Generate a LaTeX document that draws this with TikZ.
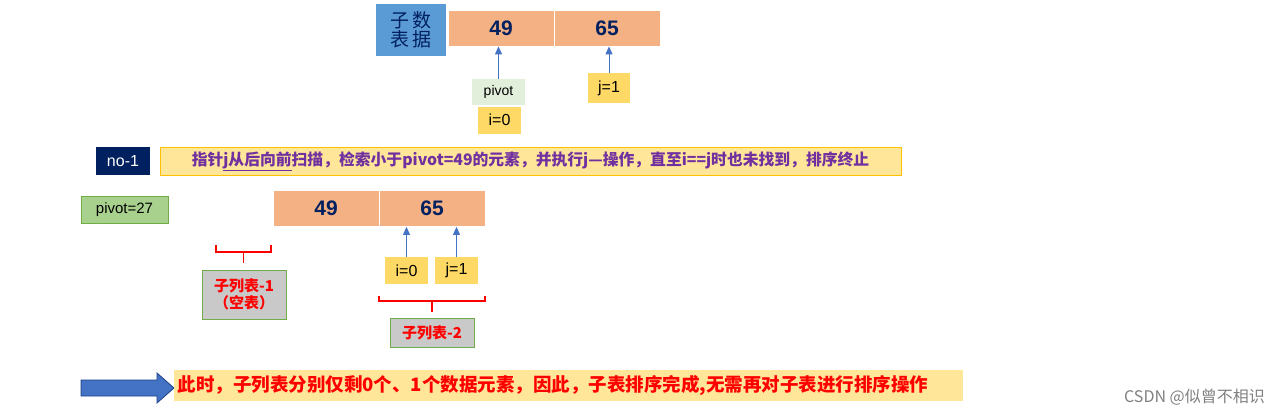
\documentclass[tikz,border=0pt]{standalone}
\usepackage{fontspec}
\setmainfont{Liberation Sans}
\newfontfamily\cjk{Noto Sans CJK SC}
\usetikzlibrary{arrows.meta}
\definecolor{cell}{RGB}{244,177,131}
\definecolor{ylw}{RGB}{255,217,102}
\definecolor{lgrn}{RGB}{226,239,218}
\definecolor{navy}{RGB}{0,32,96}
\definecolor{bannerf}{RGB}{255,230,153}
\definecolor{bannerd}{RGB}{255,192,0}
\definecolor{purp}{RGB}{112,48,160}
\definecolor{blu}{RGB}{91,155,213}
\definecolor{arr}{RGB}{68,114,196}
\definecolor{grn}{RGB}{169,209,142}
\definecolor{grnd}{RGB}{112,173,71}
\tikzset{
 cellbox/.style={fill=cell,draw=white,line width=0.8pt,minimum width=106pt,minimum height=36pt,inner sep=0pt,font=\fontsize{21}{21}\selectfont\bfseries,text=navy},
 ybox/.style={fill=ylw,minimum height=27pt,inner sep=0pt,font=\fontsize{16}{16}\selectfont},
 gbox/.style={fill=black!21,draw=grnd,line width=0.8pt,inner sep=0pt,text=red,font=\cjk\fontsize{15}{17}\selectfont\bfseries,align=center},
 upar/.style={draw=arr,line width=1pt,-{Triangle[length=8pt,width=7pt]}},
 brk/.style={draw=red,line width=1.6pt},
}
\begin{document}
\begin{tikzpicture}[x=1pt,y=-1pt]
\useasboundingbox (0,0) rectangle (1280,415);
% top
\node[fill=blu,minimum width=70pt,minimum height=52pt,inner sep=0pt,align=center,font=\cjk\fontsize{19}{19}\selectfont,text=navy] (sub) at (411,30) {子\,数\\表\,据};
\node[cellbox] (a49) at (501,28) {49};
\node[cellbox] (a65) at (607,28) {65};
\node[fill=lgrn,minimum width=53pt,minimum height=26pt,inner sep=0pt,font=\fontsize{14}{14}\selectfont] (piv) at (498.5,92) {pivot};
\node[ybox,minimum width=43pt] (i0) at (499.5,120) {i=0};
\node[ybox,minimum width=42pt,minimum height=30pt] (j1) at (609,88) {j=1};
\draw[upar] (piv.north) -- (piv.north |- a49.south);
\draw[upar] (j1.north) -- (j1.north |- a65.south);
% no-1 banner
\node[fill=navy,text=white,minimum width=54pt,minimum height=28pt,inner sep=0pt,font=\fontsize{16}{16}\selectfont] (no1) at (123,161) {no-1};
\node[fill=bannerf,draw=bannerd,line width=0.8pt,minimum width=741pt,minimum height=28pt,inner sep=0pt,text=purp,font=\cjk\fontsize{15.8}{15.8}\selectfont\bfseries] (ban1) at (530.5,161) {指针\underline{j从后向前}扫描，检索小于pivot=49的元素，并执行j—操作，直至i==j时也未找到，排序终止};
% second row
\node[fill=grn,draw=grnd,line width=0.6pt,minimum width=87pt,minimum height=27pt,inner sep=0pt,font=\fontsize{15}{15}\selectfont] (p27) at (124.5,209.5) {pivot=27};
\node[cellbox] (b49) at (326,208.5) {49};
\node[cellbox] (b65) at (432,208.5) {65};
\node[ybox,minimum width=43pt] (bi0) at (406.5,270.5) {i=0};
\node[ybox,minimum width=43pt] (bj1) at (456.5,270.5) {j=1};
\draw[upar] (bi0.north) -- (bi0.north |- b49.south);
\draw[upar] (bj1.north) -- (bj1.north |- b65.south);
% brackets
\coordinate (l1) at (216,245); \coordinate (lm) at (243.5,252); \coordinate (ls) at (243.5,263);
\draw[brk] (l1) -- ++(0,7) -- ++(55,0) -- ++(0,-7);
\draw[brk] (lm) -- (ls);
\node[gbox,minimum width=84pt,minimum height=49pt] (s1) at (244,294.5) {子列表-1\\（空表）};
\coordinate (r1) at (379,296); \coordinate (rm) at (432,301); \coordinate (rs) at (432,312);
\draw[brk] (r1) -- ++(0,5) -- ++(106,0) -- ++(0,-5);
\draw[brk] (rm) -- (rs);
\node[gbox,minimum width=84pt,minimum height=29pt] (s2) at (432,332.5) {子列表-2};
% bottom
\draw[fill=arr,draw=navy!60!arr,line width=0.8pt] (81,380) -- (157,380) -- (157,373) -- (174,388) -- (157,403) -- (157,396) -- (81,396) -- cycle;
\node[fill=bannerf,minimum width=789pt,minimum height=31pt,inner sep=0pt,text=red,font=\cjk\fontsize{18.5}{18.5}\selectfont\bfseries,text width=782pt,align=left] (ban2) at (568.5,385.5) {此时，子列表分别仅剩0个、1个数据元素，因此，子表排序完成,无需再对子表进行排序操作};
\node[anchor=east,text=black!50,font=\cjk\fontsize{16}{16}\selectfont,inner sep=0pt] (wm) at (1265,397) {CSDN @似曾不相识};
\end{tikzpicture}
\end{document}
